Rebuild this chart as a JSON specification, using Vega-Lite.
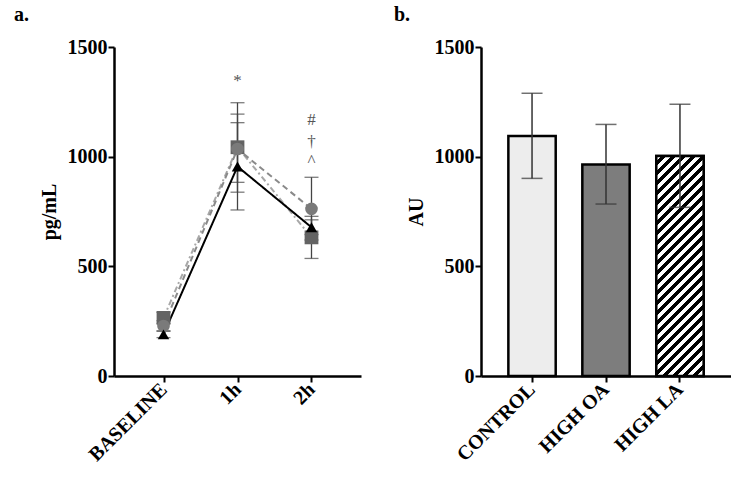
{
  "$schema": "https://vega.github.io/schema/vega-lite/v6.json",
  "background": "white",
  "padding": {"left": 14, "top": 5, "right": 0, "bottom": 0},
  "spacing": 33,
  "resolve": {"scale": {"fill": "independent", "stroke": "independent", "shape": "independent", "size": "independent", "strokeDash": "independent"}},
  "config": {
    "view": {"stroke": null},
    "axis": {
      "domainColor": "black", "domainWidth": 2.5, "tickColor": "black", "tickWidth": 2, "tickSize": 6,
      "labelFont": "Liberation Serif", "labelFontWeight": "bold", "labelFontSize": 20, "labelColor": "black", "labelPadding": 1,
      "titleFont": "Liberation Serif", "titleFontWeight": "bold", "titleFontSize": 20, "titleColor": "black", "grid": false
    },
    "title": {"font": "Liberation Serif", "fontWeight": "bold", "fontSize": 20, "color": "black", "anchor": "start", "frame": "bounds"}
  },
  "hconcat": [
    {
      "width": 247, "height": 329,
      "title": {"text": "a.", "dx": -25, "offset": 12},
      "data": {"values": [
        {"time": "BASELINE", "series": "sq", "mean": 265, "lo": 240, "hi": 290},
        {"time": "1h", "series": "sq", "mean": 1043, "lo": 838, "hi": 1246},
        {"time": "2h", "series": "sq", "mean": 632, "lo": 536, "hi": 728},
        {"time": "BASELINE", "series": "circ", "mean": 228, "lo": 205, "hi": 252},
        {"time": "1h", "series": "circ", "mean": 1035, "lo": 883, "hi": 1194},
        {"time": "2h", "series": "circ", "mean": 762, "lo": 620, "hi": 906},
        {"time": "BASELINE", "series": "tri", "mean": 190, "lo": 175, "hi": 205},
        {"time": "1h", "series": "tri", "mean": 955, "lo": 757, "hi": 1155},
        {"time": "2h", "series": "tri", "mean": 678, "lo": 645, "hi": 712}
      ]},
      "encoding": {
        "x": {"field": "time", "type": "nominal", "sort": ["BASELINE", "1h", "2h"],
              "scale": {"type": "point", "padding": 0.669},
              "axis": {"title": null, "labelAngle": -45, "labelAlign": "right", "labelBaseline": "middle", "labelPadding": 4}}
      },
      "layer": [
        {
          "mark": {"type": "rule", "color": "#444", "strokeWidth": 1.3},
          "encoding": {
            "y": {"field": "lo", "type": "quantitative", "scale": {"domain": [0, 1500], "nice": false},
                  "axis": {"title": "pg/mL", "values": [0, 500, 1000, 1500], "format": "d", "titlePadding": 8}},
            "y2": {"field": "hi"}
          }
        },
        {
          "mark": {"type": "tick", "color": "#444", "thickness": 1.3, "size": 14},
          "encoding": {"y": {"field": "lo", "type": "quantitative"}}
        },
        {
          "mark": {"type": "tick", "color": "#444", "thickness": 1.3, "size": 14},
          "encoding": {"y": {"field": "hi", "type": "quantitative"}}
        },
        {
          "mark": {"type": "line", "strokeWidth": 2},
          "encoding": {
            "y": {"field": "mean", "type": "quantitative"},
            "detail": {"field": "series"},
            "stroke": {"field": "series", "type": "nominal", "scale": {"domain": ["sq", "circ", "tri"], "range": ["#a8a8a8", "#8a8a8a", "black"]}, "legend": null},
            "strokeDash": {"field": "series", "type": "nominal", "scale": {"domain": ["sq", "circ", "tri"], "range": [[6, 3, 2, 3], [6, 4], [1, 0]]}, "legend": null}
          }
        },
        {
          "mark": {"type": "point", "filled": true, "opacity": 1, "strokeWidth": 0},
          "encoding": {
            "y": {"field": "mean", "type": "quantitative"},
            "fill": {"field": "series", "type": "nominal", "scale": {"domain": ["sq", "circ", "tri"], "range": ["#636363", "#7a7a7a", "black"]}, "legend": null},
            "shape": {"field": "series", "type": "nominal", "scale": {"domain": ["sq", "circ", "tri"], "range": ["square", "circle", "triangle-up"]}, "legend": null},
            "size": {"field": "series", "type": "nominal", "scale": {"domain": ["sq", "circ", "tri"], "range": [190, 130, 160]}, "legend": null}
          }
        },
        {
          "data": {"values": [
            {"time": "1h", "label": "*", "pos": 1346},
            {"time": "2h", "label": "#", "pos": 1167},
            {"time": "2h", "label": "†", "pos": 1068},
            {"time": "2h", "label": "^", "pos": 980}
          ]},
          "mark": {"type": "text", "font": "Liberation Serif", "fontSize": 17, "color": "#555", "baseline": "middle"},
          "encoding": {
            "y": {"field": "pos", "type": "quantitative"},
            "text": {"field": "label"}
          }
        }
      ]
    },
    {
      "width": 250, "height": 329,
      "title": {"text": "b.", "dx": -12, "offset": 12},
      "data": {"values": [
        {"group": "CONTROL", "mean": 1094, "lo": 901, "hi": 1289},
        {"group": "HIGH OA", "mean": 964, "lo": 784, "hi": 1147},
        {"group": "HIGH LA", "mean": 1003, "lo": 769, "hi": 1239}
      ]},
      "encoding": {
        "x": {"field": "group", "type": "nominal", "sort": ["CONTROL", "HIGH OA", "HIGH LA"],
              "scale": {"type": "band", "paddingInner": 0.36, "paddingOuter": 0.37},
              "axis": {"title": null, "labelAngle": -45, "labelAlign": "right", "labelBaseline": "middle", "labelPadding": 4}}
      },
      "layer": [
        {
          "mark": {"type": "bar", "stroke": "black", "strokeWidth": 2.5},
          "encoding": {
            "y": {"field": "mean", "type": "quantitative", "scale": {"domain": [0, 1500], "nice": false},
                  "axis": {"title": "AU", "values": [0, 500, 1000, 1500], "format": "d", "titlePadding": 8}},
            "fill": {"field": "group", "type": "nominal", "scale": {"domain": ["CONTROL", "HIGH OA", "HIGH LA"], "range": ["#ededed", "#7d7d7d", "#808080"]}, "legend": null}
          }
        },
        {
          "transform": [{"filter": "datum.group === 'HIGH LA'"}],
          "mark": {"type": "bar", "stroke": "black", "strokeWidth": 2.5,
            "fill": {"gradient": "linear", "x1": 0, "y1": 0, "x2": 0.2479, "y2": 1.1607, "stops": [
              {"offset": 0, "color": "white"}, {"offset": 0.01875, "color": "white"}, {"offset": 0.01875, "color": "black"}, {"offset": 0.0375, "color": "black"},
              {"offset": 0.0375, "color": "white"}, {"offset": 0.05625, "color": "white"}, {"offset": 0.05625, "color": "black"}, {"offset": 0.075, "color": "black"},
              {"offset": 0.075, "color": "white"}, {"offset": 0.09375, "color": "white"}, {"offset": 0.09375, "color": "black"}, {"offset": 0.1125, "color": "black"},
              {"offset": 0.1125, "color": "white"}, {"offset": 0.13125, "color": "white"}, {"offset": 0.13125, "color": "black"}, {"offset": 0.15, "color": "black"},
              {"offset": 0.15, "color": "white"}, {"offset": 0.16875, "color": "white"}, {"offset": 0.16875, "color": "black"}, {"offset": 0.1875, "color": "black"},
              {"offset": 0.1875, "color": "white"}, {"offset": 0.20625, "color": "white"}, {"offset": 0.20625, "color": "black"}, {"offset": 0.225, "color": "black"},
              {"offset": 0.225, "color": "white"}, {"offset": 0.24375, "color": "white"}, {"offset": 0.24375, "color": "black"}, {"offset": 0.2625, "color": "black"},
              {"offset": 0.2625, "color": "white"}, {"offset": 0.28125, "color": "white"}, {"offset": 0.28125, "color": "black"}, {"offset": 0.3, "color": "black"},
              {"offset": 0.3, "color": "white"}, {"offset": 0.31875, "color": "white"}, {"offset": 0.31875, "color": "black"}, {"offset": 0.3375, "color": "black"},
              {"offset": 0.3375, "color": "white"}, {"offset": 0.35625, "color": "white"}, {"offset": 0.35625, "color": "black"}, {"offset": 0.375, "color": "black"},
              {"offset": 0.375, "color": "white"}, {"offset": 0.39375, "color": "white"}, {"offset": 0.39375, "color": "black"}, {"offset": 0.4125, "color": "black"},
              {"offset": 0.4125, "color": "white"}, {"offset": 0.43125, "color": "white"}, {"offset": 0.43125, "color": "black"}, {"offset": 0.45, "color": "black"},
              {"offset": 0.45, "color": "white"}, {"offset": 0.46875, "color": "white"}, {"offset": 0.46875, "color": "black"}, {"offset": 0.4875, "color": "black"},
              {"offset": 0.4875, "color": "white"}, {"offset": 0.50625, "color": "white"}, {"offset": 0.50625, "color": "black"}, {"offset": 0.525, "color": "black"},
              {"offset": 0.525, "color": "white"}, {"offset": 0.54375, "color": "white"}, {"offset": 0.54375, "color": "black"}, {"offset": 0.5625, "color": "black"},
              {"offset": 0.5625, "color": "white"}, {"offset": 0.58125, "color": "white"}, {"offset": 0.58125, "color": "black"}, {"offset": 0.6, "color": "black"},
              {"offset": 0.6, "color": "white"}, {"offset": 0.61875, "color": "white"}, {"offset": 0.61875, "color": "black"}, {"offset": 0.6375, "color": "black"},
              {"offset": 0.6375, "color": "white"}, {"offset": 0.65625, "color": "white"}, {"offset": 0.65625, "color": "black"}, {"offset": 0.675, "color": "black"},
              {"offset": 0.675, "color": "white"}, {"offset": 0.69375, "color": "white"}, {"offset": 0.69375, "color": "black"}, {"offset": 0.7125, "color": "black"},
              {"offset": 0.7125, "color": "white"}, {"offset": 0.73125, "color": "white"}, {"offset": 0.73125, "color": "black"}, {"offset": 0.75, "color": "black"},
              {"offset": 0.75, "color": "white"}, {"offset": 0.76875, "color": "white"}, {"offset": 0.76875, "color": "black"}, {"offset": 0.7875, "color": "black"},
              {"offset": 0.7875, "color": "white"}, {"offset": 0.80625, "color": "white"}, {"offset": 0.80625, "color": "black"}, {"offset": 0.825, "color": "black"},
              {"offset": 0.825, "color": "white"}, {"offset": 0.84375, "color": "white"}, {"offset": 0.84375, "color": "black"}, {"offset": 0.8625, "color": "black"},
              {"offset": 0.8625, "color": "white"}, {"offset": 0.88125, "color": "white"}, {"offset": 0.88125, "color": "black"}, {"offset": 0.9, "color": "black"},
              {"offset": 0.9, "color": "white"}, {"offset": 0.91875, "color": "white"}, {"offset": 0.91875, "color": "black"}, {"offset": 0.9375, "color": "black"},
              {"offset": 0.9375, "color": "white"}, {"offset": 0.95625, "color": "white"}, {"offset": 0.95625, "color": "black"}, {"offset": 0.975, "color": "black"},
              {"offset": 0.975, "color": "white"}, {"offset": 0.99375, "color": "white"}, {"offset": 0.99375, "color": "black"}, {"offset": 1, "color": "black"}
            ]}
          },
          "encoding": {
            "y": {"field": "mean", "type": "quantitative"}
          }
        },
        {
          "mark": {"type": "rule", "color": "#333", "strokeWidth": 1.5},
          "encoding": {
            "y": {"field": "lo", "type": "quantitative"},
            "y2": {"field": "hi"}
          }
        },
        {
          "mark": {"type": "tick", "color": "#333", "thickness": 1.5, "size": 21},
          "encoding": {"y": {"field": "lo", "type": "quantitative"}}
        },
        {
          "mark": {"type": "tick", "color": "#333", "thickness": 1.5, "size": 21},
          "encoding": {"y": {"field": "hi", "type": "quantitative"}}
        }
      ]
    }
  ]
}
